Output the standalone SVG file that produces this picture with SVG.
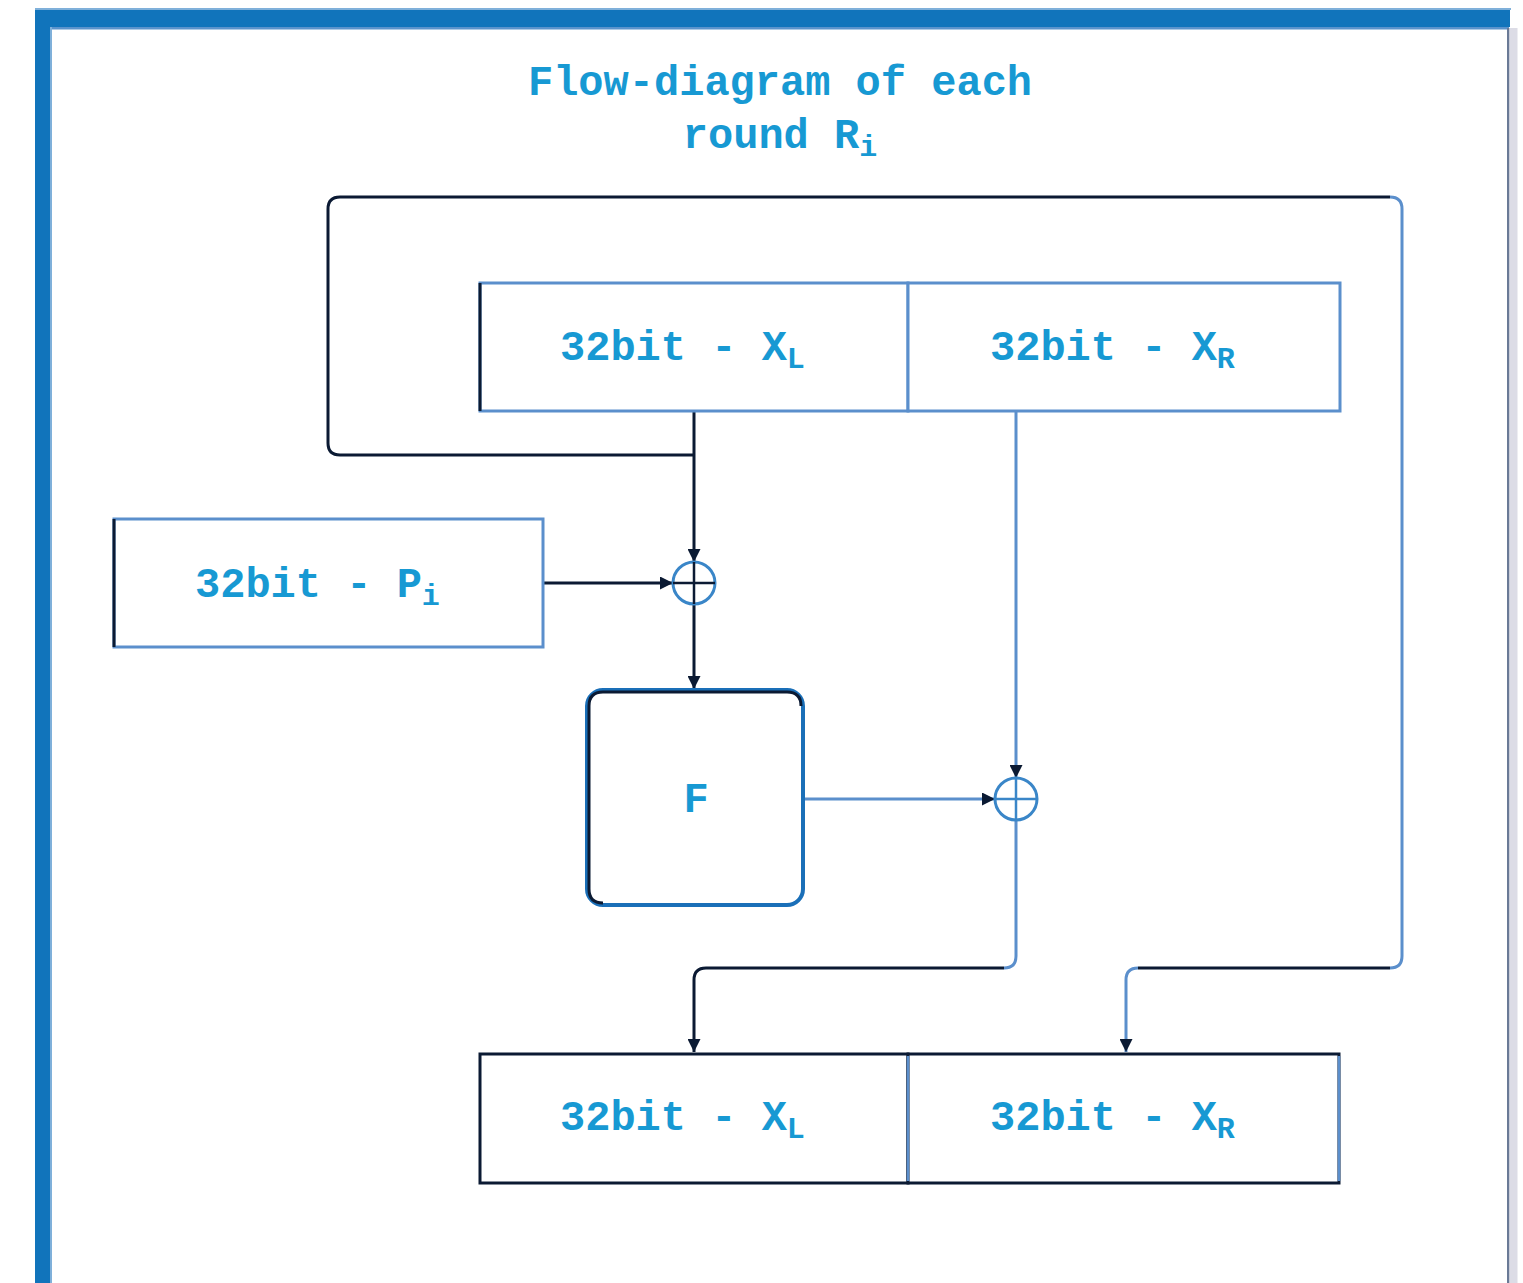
<svg xmlns="http://www.w3.org/2000/svg" width="1523" height="1283" viewBox="0 0 1523 1283">
<defs>
<style>
.t{font-family:"Liberation Mono","Courier New",monospace;font-weight:bold;fill:#1799d3;font-size:42px}
.sub{font-size:30px}
.dk{fill:none;stroke:#0b1a33;stroke-width:3}
.bl{fill:none;stroke:#5b8fcc;stroke-width:3}
.box{fill:#fff;stroke:#5b8fcc;stroke-width:3}
</style>
<marker id="ah" viewBox="0 0 10 10" refX="10" refY="5" markerWidth="13" markerHeight="13" markerUnits="userSpaceOnUse" orient="auto">
<path d="M0,0 L10,5 L0,10 z" fill="#0b1a33"/>
</marker>
</defs>
<rect width="1523" height="1283" fill="#fff"/>
<g id="frame">
<rect x="35" y="8" width="1476" height="2" fill="#7fb0da"/>
<rect x="35" y="10" width="1475" height="17" fill="#1174bb"/>
<rect x="50" y="27" width="1459" height="2.5" fill="#5b93cc"/>
<rect x="35" y="10" width="15" height="1273" fill="#1174bb"/>
<rect x="50" y="27" width="2" height="1256" fill="#7fb0da"/>
<rect x="1507" y="28" width="2.5" height="1255" fill="#6a7a96"/>
<rect x="1509.5" y="28" width="8" height="1255" fill="#dcdce6"/>
</g>
<g id="title">
<text class="t" x="780" y="95" text-anchor="middle">Flow-diagram of each</text>
<text class="t" x="780" y="148" text-anchor="middle">round R<tspan class="sub" dy="8">i</tspan></text>
</g>
<g id="connectors">
<path class="dk" d="M694,412 V562" marker-end="url(#ah)"/>
<path class="dk" d="M694,455 H340 Q328,455 328,443 V209 Q328,197 340,197 H1390"/>
<path class="bl" d="M1390,197 Q1402,197 1402,209 V956 Q1402,968 1390,968"/>
<path class="dk" d="M1390,968 H1138"/>
<path class="bl" d="M1138,968 Q1126,968 1126,980 V1052" marker-end="url(#ah)"/>
<path class="dk" d="M544,583 H673" marker-end="url(#ah)"/>
<path class="dk" d="M694,604 V689" marker-end="url(#ah)"/>
<path class="bl" d="M804,799 H995" marker-end="url(#ah)"/>
<path class="bl" d="M1016,412 V778" marker-end="url(#ah)"/>
<path class="bl" d="M1016,820 V956 Q1016,968 1004,968"/>
<path class="dk" d="M1004,968 H706"/>
<path class="dk" d="M706,968 Q694,968 694,980 V1052" marker-end="url(#ah)"/>
</g>
<g id="xl-top">
<rect class="box" x="480" y="283" width="428" height="128"/>
<line x1="480" y1="283" x2="480" y2="411" stroke="#0b1a33" stroke-width="3"/>
<text class="t" x="560" y="360">32bit - X<tspan class="sub" dy="8">L</tspan></text>
</g>
<g id="xr-top">
<rect class="box" x="908" y="283" width="432" height="128"/>
<text class="t" x="990" y="360">32bit - X<tspan class="sub" dy="8">R</tspan></text>
</g>
<g id="pi">
<rect class="box" x="114" y="519" width="429" height="128"/>
<line x1="114" y1="519" x2="114" y2="647" stroke="#0b1a33" stroke-width="3"/>
<text class="t" x="195" y="597">32bit - P<tspan class="sub" dy="8">i</tspan></text>
</g>
<g id="xor1">
<circle cx="694" cy="583" r="21" fill="none" stroke="#3a86c8" stroke-width="3"/>
<path d="M673,583 H715 M694,562 V604" stroke="#0b1a33" stroke-width="2.5"/>
</g>
<g id="f">
<rect x="587" y="690" width="216" height="215" rx="16" fill="#fff" stroke="#1a6fb8" stroke-width="4"/>
<path d="M603,903 Q589,903 589,889 V706 Q589,692 603,692 H787 Q801,692 801,706" fill="none" stroke="#0b1a33" stroke-width="3"/>
<text class="t" x="696" y="812" text-anchor="middle">F</text>
</g>
<g id="xor2">
<circle cx="1016" cy="799" r="21" fill="none" stroke="#3a86c8" stroke-width="3"/>
<path d="M995,799 H1037 M1016,778 V820" stroke="#3a86c8" stroke-width="2.5"/>
</g>
<g id="xl-bottom">
<rect x="480" y="1054" width="428" height="129" fill="#fff" stroke="#0b1a33" stroke-width="3"/>
<text class="t" x="560" y="1130">32bit - X<tspan class="sub" dy="8">L</tspan></text>
</g>
<g id="xr-bottom">
<rect x="908" y="1054" width="431" height="129" fill="#fff" stroke="#0b1a33" stroke-width="3"/>
<line x1="908" y1="1056" x2="908" y2="1181" stroke="#5b8fcc" stroke-width="2.5"/>
<line x1="1339" y1="1056" x2="1339" y2="1181" stroke="#5b8fcc" stroke-width="2.5"/>
<text class="t" x="990" y="1130">32bit - X<tspan class="sub" dy="8">R</tspan></text>
</g>
</svg>
